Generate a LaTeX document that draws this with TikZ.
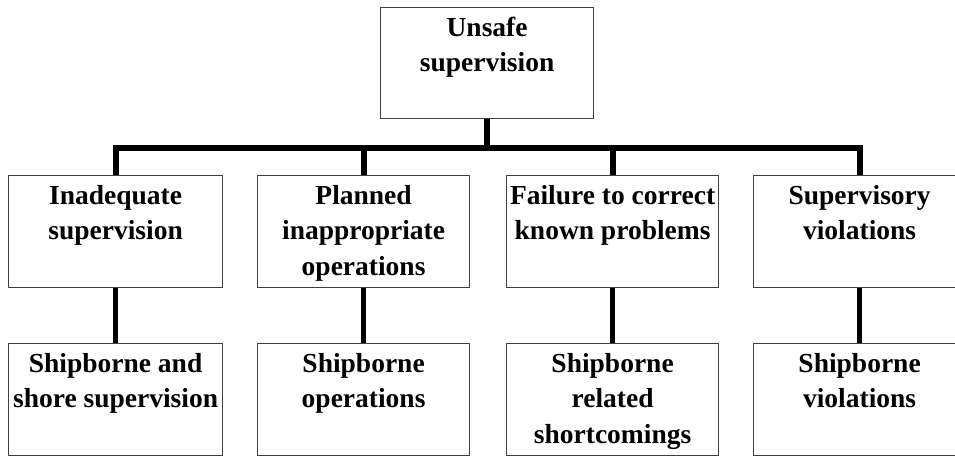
\documentclass[tikz,border=0pt]{standalone}
\usepackage{fontspec}
\setmainfont{Liberation Serif}
\newcommand\boxtext[3]{\parbox[t][#2][t]{#1}{\centering\rule{0pt}{28.5pt}#3}}
\tikzset{
  boxstyle/.style={draw=black!75, line width=1.2pt, inner sep=0pt, anchor=north west,
    font=\bfseries\fontsize{27.5}{35.5}\selectfont},
  busline/.style={line width=6pt, line join=miter},
  linkline/.style={line width=5pt},
}
\begin{document}
\begin{tikzpicture}[x=1pt,y=-1pt]
\useasboundingbox (0,0) rectangle (955,455);
\fill[white] (0,0) rectangle (955,455);
% top
\node[boxstyle] (top) at (380,7) {\boxtext{213pt}{111pt}{Unsafe\\supervision}};
% row 2
\node[boxstyle] (b1) at (8,175) {\boxtext{214pt}{112pt}{Inadequate\\supervision}};
\node[boxstyle] (b2) at (257,175) {\boxtext{212pt}{112pt}{Planned\\inappropriate\\operations}};
\node[boxstyle] (b3) at (506,175) {\boxtext{212pt}{112pt}{Failure to correct\\known problems}};
\node[boxstyle] (b4) at (753,175) {\boxtext{212pt}{112pt}{Supervisory\\violations}};
% row 3
\node[boxstyle] (c1) at (8,343) {\boxtext{214pt}{112pt}{Shipborne and\\shore supervision}};
\node[boxstyle] (c2) at (257,343) {\boxtext{212pt}{112pt}{Shipborne\\operations}};
\node[boxstyle] (c3) at (506,343) {\boxtext{212pt}{112pt}{Shipborne\\related\\shortcomings}};
\node[boxstyle] (c4) at (753,343) {\boxtext{212pt}{112pt}{Shipborne\\violations}};
% connectors
\coordinate (busy) at (0,148);
\draw[busline] (top.south) -- (top.south |- busy);
\draw[busline] (b1.north) -- (b1.north |- busy) -- (b4.north |- busy) -- (b4.north);
\draw[busline] (b2.north) -- (b2.north |- busy);
\draw[busline] (b3.north) -- (b3.north |- busy);
\draw[linkline] (b1.south) -- (c1.north);
\draw[linkline] (b2.south) -- (c2.north);
\draw[linkline] (b3.south) -- (c3.north);
\draw[linkline] (b4.south) -- (c4.north);
\end{tikzpicture}
\end{document}
